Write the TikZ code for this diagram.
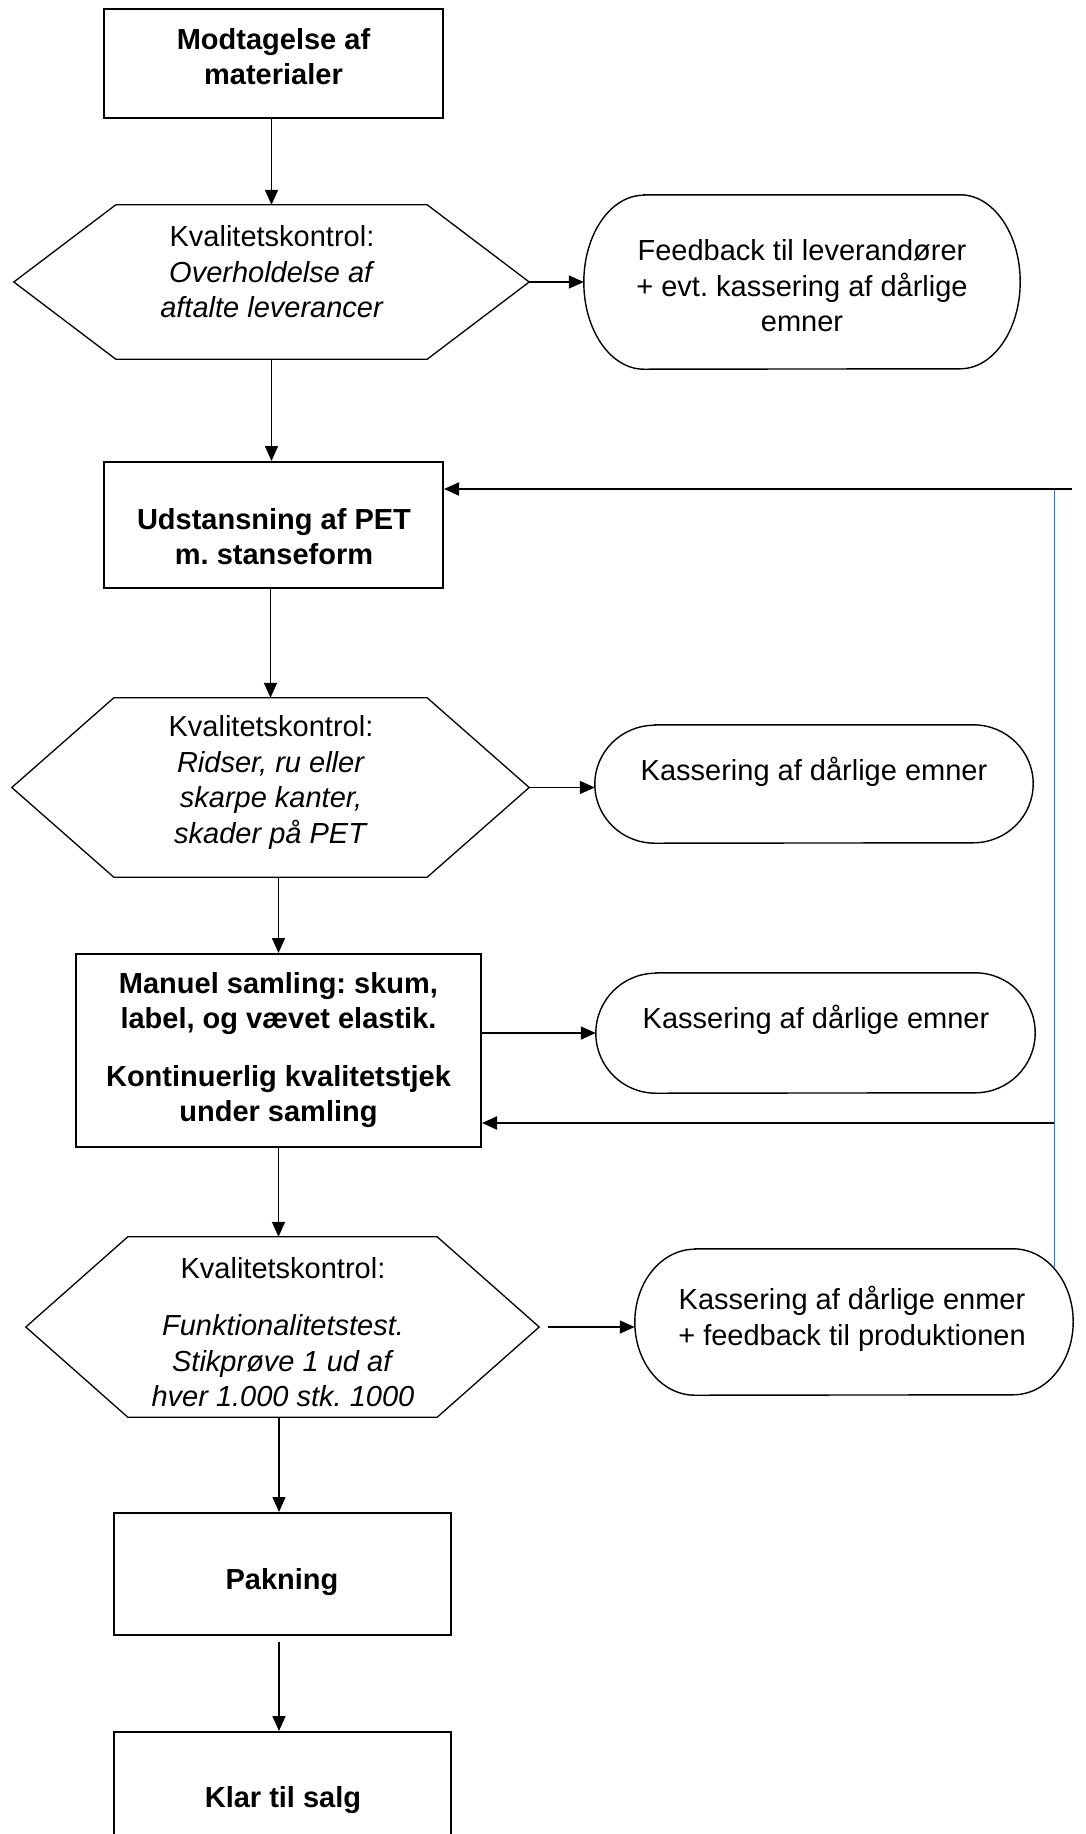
\documentclass[tikz,border=0pt]{standalone}
\usepackage{fontspec}
\setmainfont{Liberation Sans}
\usetikzlibrary{arrows.meta,calc}
\definecolor{fbblue}{RGB}{68,114,196}
\frenchspacing
\newcommand{\hexdraw}[2]{\draw[hexline] (#1.west) -- ($(#1.north west)+(#2,0)$) -- ($(#1.north east)+(-#2,0)$) -- (#1.east) -- ($(#1.south east)+(-#2,0)$) -- ($(#1.south west)+(#2,0)$) -- cycle;}
\newcommand{\termdraw}[3]{\draw[termline] ($(#1.north west)+(#2,0)$) -- ($(#1.north east)+(-#2,0)$) arc[start angle=90, end angle=-90, x radius=#2pt, y radius=#3pt] -- ($(#1.south west)+(#2,0)$) arc[start angle=270, end angle=90, x radius=#2pt, y radius=#3pt] -- cycle;}
\begin{document}
\begin{tikzpicture}[x=1pt,y=-1pt,
  procbox/.style={draw, line width=2pt, rectangle, inner sep=0pt},
  shapebox/.style={rectangle, inner sep=0pt},
  txt/.style={font=\fontsize{29pt}{35.5pt}\selectfont\frenchspacing, align=center, inner sep=0pt},
  btxt/.style={font=\fontsize{29pt}{35.5pt}\selectfont\bfseries\frenchspacing, align=center, inner sep=0pt},
  hexline/.style={line width=1.3pt, line join=miter},
  termline/.style={line width=1.4pt},
  flow/.style={line width=1.5pt, -{Triangle[length=15pt,width=13pt]}},
  fbarrow/.style={line width=2pt, -{Triangle[length=15pt,width=13pt]}},
  blueline/.style={draw=fbblue, line width=1pt}]
\useasboundingbox (0,0) rectangle (1085,1834);
\fill[white] (0,0) rectangle (1085,1834);

% shapes
\node[procbox, minimum width=339pt, minimum height=109pt] (b1) at (273.5,63.5) {};
\node[shapebox, minimum width=515pt, minimum height=154pt] (h1) at (271.5,282) {};
\node[shapebox, minimum width=436pt, minimum height=174pt] (t1) at (802,282) {};
\node[procbox, minimum width=339pt, minimum height=126pt] (b2) at (273.5,525) {};
\node[shapebox, minimum width=517pt, minimum height=179pt] (h2) at (270.5,787.5) {};
\node[shapebox, minimum width=438pt, minimum height=118pt] (t2) at (814,784) {};
\node[procbox, minimum width=405pt, minimum height=193pt] (b3) at (278.5,1050.5) {};
\node[shapebox, minimum width=439pt, minimum height=120pt] (t3) at (815.5,1033) {};
\node[shapebox, minimum width=513pt, minimum height=180pt] (h3) at (282.5,1327) {};
\node[shapebox, minimum width=438pt, minimum height=146pt] (t4) at (854,1322) {};
\node[procbox, minimum width=337pt, minimum height=122pt] (pak) at (282.5,1574) {};
\node[procbox, minimum width=337pt, minimum height=122pt] (klar) at (282.5,1793) {};

\hexdraw{h1}{102}
\hexdraw{h2}{102}
\hexdraw{h3}{102}
\termdraw{t1}{60}{87}
\termdraw{t2}{60}{59}
\termdraw{t3}{60}{60}
\termdraw{t4}{60}{73}

% texts
\node[btxt] (b1t) at (273.5,56.5) {Modtagelse af\\materialer};
\node[txt] (h1t) at (272,272) {Kvalitetskontrol:\\\textit{Overholdelse af}\\\textit{aftalte leverancer}};
\node[txt] (t1t) at (802,286) {Feedback til leverandører\\+ evt. kassering af dårlige\\emner};
\node[btxt] (b2t) at (274,536.5) {Udstansning af PET\\m. stanseform};
\node[txt] (h2t) at (271,782.5) {Kvalitetskontrol:\\\textit{Ridser, ru eller}\\\textit{skarpe kanter,}\\\textit{skader på PET}};
\node[txt] (t2t) at (814,772) {Kassering af dårlige emner};
\node[btxt] (b3t) at (278.5,1050) {Manuel samling: skum,\\label, og vævet elastik.\\[22pt]Kontinuerlig kvalitetstjek\\under samling};
\node[txt] (t3t) at (816,1020) {Kassering af dårlige emner};
\node[txt] (h3t) at (283,1332) {Kvalitetskontrol:\\[22pt]\textit{Funktionalitetstest.}\\\textit{Stikprøve 1 ud af}\\\textit{hver 1.000 stk. 1000}};
\node[txt] (t4t) at (852,1319) {Kassering af dårlige enmer\\+ feedback til produktionen};
\node[btxt] (pakt) at (282,1582) {Pakning};
\node[btxt] (klart) at (283,1800) {Klar til salg};

% flow arrows
\draw[flow] (h1.north |- b1.south) -- (h1.north);
\draw[flow] (h1.east) -- (t1.west);
\draw[flow] (h1.south) -- (h1.south |- b2.north);
\draw[flow] (h2.north |- b2.south) -- (h2.north);
\draw[flow] (h2.east) -- (h2.east -| t2.west);
\draw[flow] (b3.north |- h2.south) -- (b3.north);
\draw[flow] (t3.west -| b3.east) -- (t3.west);
\draw[flow] (b3.south) -- (b3.south |- h3.north);
\draw[flow] ([xshift=9pt]h3.east) -- (h3.east -| t4.west);
\draw[flow] ([xshift=-3.5pt]pak.north |- h3.south) -- ([xshift=-3.5pt]pak.north);
\draw[flow] ([xshift=-3.5pt,yshift=-6pt]pak.south) -- ([xshift=-3.5pt]klar.north);

% feedback loop
\coordinate (fbA) at (1072,489);
\coordinate (fbT) at (1054,489);
\coordinate (fbB) at (1054,1267);
\coordinate (fbC) at (1054,1123);
\draw[blueline] (fbT) -- (fbB);
\draw[fbarrow] (fbA) -- (fbA -| b2.east);
\draw[fbarrow] (fbC) -- (fbC -| b3.east);
\end{tikzpicture}
\end{document}
